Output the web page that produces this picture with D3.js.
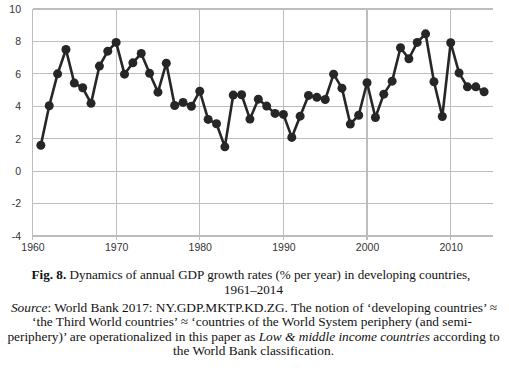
<!DOCTYPE html>
<html><head><meta charset="utf-8">
<script src="https://cdn.jsdelivr.net/npm/d3@7"></script>
<style>body{margin:0;background:#fff}svg{display:block}
.cap{font-family:"Liberation Serif","Times New Roman",serif}
.tk{font-family:"Liberation Sans",Arial,sans-serif}</style>
</head><body>
<svg id="c" width="509" height="370"></svg>
<script>
const years = d3.range(1961, 2015);
const growth = [1.6,4.03,6.0,7.5,5.43,5.14,4.18,6.48,7.4,7.94,5.98,6.68,7.26,6.03,4.87,6.66,4.05,4.24,4.0,4.93,3.19,2.92,1.5,4.69,4.71,3.21,4.44,4.01,3.56,3.5,2.08,3.39,4.67,4.55,4.42,5.98,5.12,2.9,3.45,5.45,3.31,4.75,5.55,7.61,6.93,7.94,8.47,5.51,3.37,7.92,6.06,5.2,5.2,4.89];
const xTicks = [1960,1970,1980,1990,2000,2010];
const yTicks = [-4,-2,0,2,4,6,8,10];

const svg = d3.select('#c');
const x = d3.scaleLinear().domain([1960,2015]).range([32.5,492.5]);
const y = d3.scaleLinear().domain([-4,10]).range([236,9]);

const g = svg.append('g');
g.selectAll('.hg').data(yTicks).join('line')
  .attr('x1',x(1960)).attr('x2',x(2015)).attr('y1',d=>y(d)).attr('y2',d=>y(d))
  .attr('stroke','#bdbdbd').attr('stroke-width',1.2).attr('shape-rendering','crispEdges');
g.selectAll('.vg').data(xTicks).join('line')
  .attr('x1',d=>x(d)).attr('x2',d=>x(d)).attr('y1',y(10)).attr('y2',y(-4)+4)
  .attr('stroke','#bdbdbd').attr('stroke-width',1.2).attr('shape-rendering','crispEdges');

const fmt = d => String(d);
const yAxis = d3.axisLeft(y).tickValues(yTicks).tickSize(0).tickPadding(0).tickFormat(fmt);
const ya = svg.append('g').attr('transform','translate(21,0)').call(yAxis);
ya.select('.domain').remove();
ya.attr('font-family',null);
ya.selectAll('text').attr('class','tk').attr('font-size',10.5).attr('fill','#333');

const xAxis = d3.axisBottom(x).tickValues(xTicks).tickSize(0).tickPadding(0).tickFormat(fmt);
const xa = svg.append('g').attr('transform','translate(0,244)').call(xAxis);
xa.select('.domain').remove();
xa.attr('font-family',null);
xa.selectAll('text').attr('class','tk').attr('font-size',10.5).attr('fill','#333');

const line = d3.line().x((d,i)=>x(years[i])).y(d=>y(d));
svg.append('path').datum(growth).attr('d',line).attr('fill','none')
  .attr('stroke','#262626').attr('stroke-width',2.6).attr('stroke-linejoin','round');
svg.selectAll('.pt').data(growth).join('circle')
  .attr('cx',(d,i)=>x(years[i])).attr('cy',d=>y(d)).attr('r',4.5).attr('fill','#262626');

const cap = svg.append('g').attr('class','cap').attr('fill','#111').attr('text-anchor','middle');
function mk(cx, by, parts){
  const t = cap.append('text').attr('x',cx).attr('y',by).attr('font-size',13);
  parts.forEach(p => {
    const s = t.append('tspan').text(p[0]);
    if (p[1]==='b') s.attr('font-weight','bold');
    if (p[1]==='i') s.attr('font-style','italic');
  });
  return t;
}
const c1 = mk(251, 279, [['Fig. 8.','b'],[' Dynamics of annual GDP growth rates (% per year) in developing countries,']]);
const c2 = mk(253.5, 294, [['1961–2014']]);
const s1 = mk(254, 311.5, [['Source','i'],[': World Bank 2017: NY.GDP.MKTP.KD.ZG. The notion of ‘developing countries’ ≈']]);
const s2 = mk(252, 326, [['‘the Third World countries’ ≈ ‘countries of the World System periphery (and semi-']]);
const s3 = mk(253.5, 340.5, [['periphery)’ are operationalized in this paper as '],['Low & middle income countries','i'],[' according to']]);
const s4 = mk(253.5, 355, [['the World Bank classification.']]);
// fit font sizes to the reference's line widths
function fit(items){
  const r = d3.mean(items, ([t,w]) => w / t.node().getComputedTextLength());
  items.forEach(([t]) => t.attr('font-size', 13*r));
}
fit([[c1,439]]);
c2.attr('font-size', c1.attr('font-size'));
fit([[s1,490],[s2,437],[s3,493]]);
s4.attr('font-size', s1.attr('font-size'));
</script>
</body></html>
